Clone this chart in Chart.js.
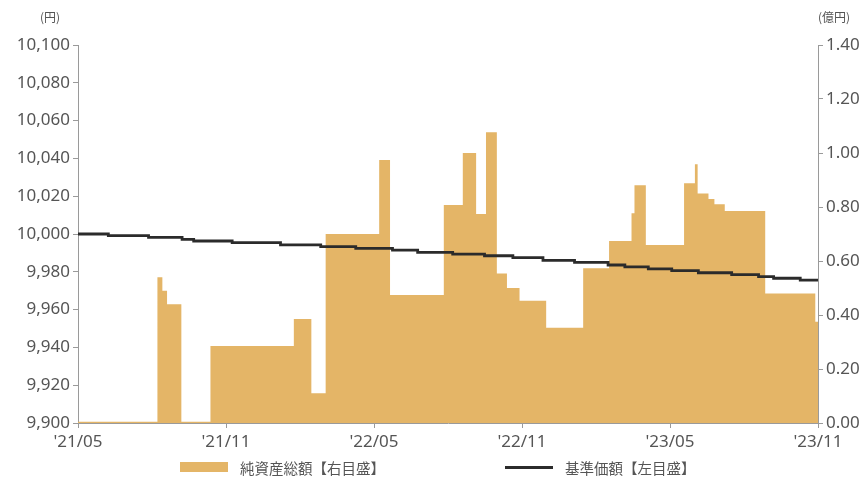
<!DOCTYPE html>
<html lang="ja">
<head>
  <meta charset="UTF-8">
  <title>基準価額・純資産総額の推移</title>
  <script src="https://cdn.jsdelivr.net/npm/chart.js"></script>
  <style>
    body { margin: 0; background: #fff; font-family: "Noto Sans", "Noto Sans CJK JP", sans-serif; }
    #wrap { position: relative; width: 866px; height: 499px; }
    .unit { position: absolute; top: 8px; font-size: 12px; color: #555; font-family: "Noto Sans CJK JP", sans-serif; }
    #legend { position: absolute; top: 456px; left: 0; width: 866px; height: 22px; font-family: "Noto Sans CJK JP", sans-serif; font-size: 14.5px; color: #555; }
    .item { position: absolute; top: 0; display: flex; align-items: center; height: 22px; }
    .sw { display: inline-block; width: 48px; margin-right: 12px; }
  </style>
</head>
<body>
<div id="wrap">
  <canvas id="c" width="866" height="499"></canvas>
  <div class="unit" style="left:40px">(円)</div>
  <div class="unit" style="left:818px">(億円)</div>
  <div id="legend">
    <div class="item" style="left:180px"><span class="sw" style="height:10px;background:#E4B567"></span>純資産総額【右目盛】</div>
    <div class="item" style="left:505px"><span class="sw" style="height:3px;background:#2b2b2b"></span>基準価額【左目盛】</div>
  </div>
</div>

<script>
  // x = months since 2021/05
  const tickLabels = ["'21/05", "'21/11", "'22/05", "'22/11", "'23/05", "'23/11"];

  // 純資産総額 (億円), right axis, each value holds from its x until the next x
  const assetX = [0, 3.22, 3.42, 3.61, 4.19, 5.37, 8.75, 9.46, 10.04, 12.21, 12.65, 14.83, 15.60, 16.14, 16.54, 16.98,
                  17.39, 17.90, 18.98, 20.48, 21.53, 22.44, 22.56, 23.02, 24.57, 25.01, 25.12, 25.56, 25.8, 26.22, 27.86, 29.89, 30];
  const assetY = [0.005, 0.54, 0.49, 0.44, 0.005, 0.285, 0.385, 0.11, 0.70, 0.974, 0.474, 0.807, 1.0, 0.774, 1.077, 0.554,
                  0.50, 0.453, 0.353, 0.573, 0.674, 0.777, 0.881, 0.659, 0.888, 0.958, 0.85, 0.83, 0.81, 0.785, 0.48, 0.375, 0.375];

  // 基準価額 (円), left axis
  const navX = [0, 1.23, 2.86, 4.22, 4.69, 6.25, 8.21, 9.84, 11.26, 12.75, 13.77, 15.19, 16.48, 17.63, 18.85,
                20.13, 21.49, 22.17, 23.12, 24.07, 25.15, 26.50, 27.59, 28.2, 29.28, 30];
  const navY = [10000, 9999.1, 9998.2, 9997.2, 9996.3, 9995.4, 9994.2, 9993.3, 9992.4, 9991.5, 9990.3, 9989.4, 9988.5, 9987.5, 9986.0,
                9985.0, 9983.6, 9982.6, 9981.6, 9980.6, 9979.5, 9978.5, 9977.5, 9976.6, 9975.6, 9975.3];

  const tickFont = { family: "'Noto Sans', sans-serif", size: 17 };
  const axisColor = '#9a9a9a';

  new Chart(document.getElementById('c').getContext('2d'), {
    type: 'line',
    data: {
      datasets: [
        {
          label: '基準価額【左目盛】',
          data: navX.map((x, i) => ({ x: x, y: navY[i] })),
          yAxisID: 'y',
          borderColor: '#2b2b2b',
          borderWidth: 2.8,
          stepped: 'before',
          pointRadius: 0,
          fill: false,
          order: 0
        },
        {
          label: '純資産総額【右目盛】',
          data: assetX.map((x, i) => ({ x: x, y: assetY[i] })),
          yAxisID: 'y1',
          borderWidth: 0,
          borderColor: '#E4B567',
          backgroundColor: '#E4B567',
          stepped: 'before',
          pointRadius: 0,
          fill: 'origin',
          order: 1
        }
      ]
    },
    options: {
      responsive: false,
      animation: false,
      layout: { padding: { top: 45, left: 0, right: 0, bottom: 0 } },
      plugins: { legend: { display: false }, tooltip: { enabled: false } },
      scales: {
        x: {
          type: 'linear', min: 0, max: 30,
          afterFit: s => { s.height = 76; },
          grid: { drawOnChartArea: false, tickLength: 5, color: axisColor },
          border: { color: axisColor },
          ticks: { stepSize: 6, padding: 4, color: '#555', font: tickFont, maxRotation: 0,
                   callback: v => tickLabels[v / 6] }
        },
        y: {
          position: 'left', min: 9900, max: 10100,
          afterFit: s => { s.width = 78; },
          grid: { drawOnChartArea: false, tickLength: 5, color: axisColor },
          border: { color: axisColor },
          ticks: { stepSize: 20, padding: 3, color: '#555', font: tickFont,
                   callback: v => v.toLocaleString('en-US') }
        },
        y1: {
          position: 'right', min: 0, max: 1.4,
          afterFit: s => { s.width = 48; },
          grid: { drawOnChartArea: false, tickLength: 5, color: axisColor },
          border: { color: axisColor },
          ticks: { stepSize: 0.2, padding: 3, color: '#555', font: tickFont,
                   callback: v => v.toFixed(2) }
        }
      }
    }
  });
</script>
</body>
</html>
